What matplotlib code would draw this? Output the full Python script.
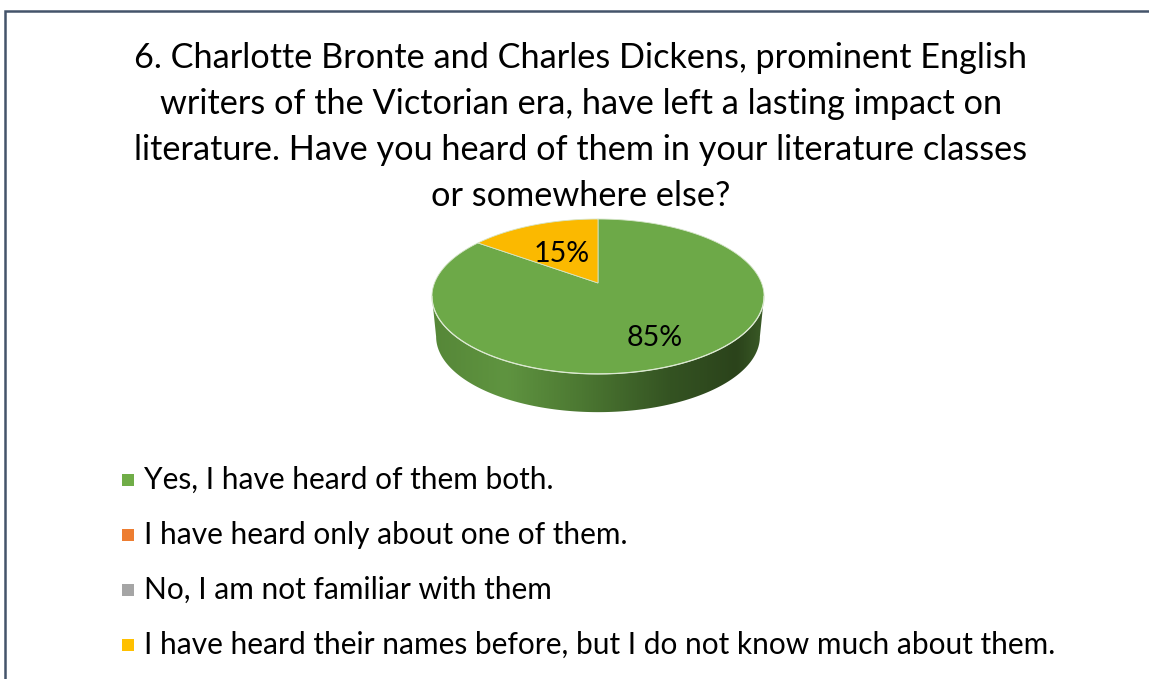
import numpy as np
import matplotlib
matplotlib.use("Agg")
import matplotlib.pyplot as plt
from matplotlib.colors import LinearSegmentedColormap
from matplotlib.patches import Polygon, Rectangle

plt.rcParams['font.family'] = ['Lato', 'DejaVu Sans']

title_lines = [
    "6. Charlotte Bronte and Charles Dickens, prominent English",
    "writers of the Victorian era, have left a lasting impact on",
    "literature. Have you heard of them in your literature classes",
    "or somewhere else?",
]
categories = [
    "Yes, I have heard of them both.",
    "I have heard only about one of them.",
    "No, I am not familiar with them",
    "I have heard their names before, but I do not know much about them.",
]
shares = [85, 0, 0, 15]
colors = ["#70AD47", "#ED7D31", "#A5A5A5", "#FFC000"]
face_colors = ["#6DA948", "#ED7D31", "#A5A5A5", "#FBB900"]

fig = plt.figure(figsize=(11.49, 6.79), dpi=100, facecolor="white")
ax = fig.add_axes([0, 0, 1, 1])
ax.set_xlim(0, 1149)
ax.set_ylim(679, 0)
ax.axis("off")

# Chart frame: only the top and left edges fall inside the canvas
ax.plot([5, 5, 1149], [679, 10.5, 10.5], color="#44546A", lw=1.8, solid_joinstyle="miter")

for y, line in zip([57.5, 103.5, 149.5, 195.5], title_lines):
    ax.text(581, y, line, fontsize=24.65, ha="center", va="center", color="black")

# Perspective projection of the unit disc onto the tilted pie
CX, CY = 598, 283
TILT = 0.174


def project(theta, scale=1.0, drop=0.0):
    """theta is measured clockwise from 12 o'clock."""
    u, v = np.sin(theta), np.cos(theta)
    w = 1 + TILT * v
    return CX + 163.5 * scale * u / w, CY - 75.1 * scale * v / w + drop


full = np.linspace(0, 2 * np.pi, 721)

# Side wall: shaded strip clipped to the region swept between the rims
top_x, top_y = project(full)
low_x, low_y = project(full, scale=0.975, drop=40.5)
right = np.argmax(top_x)
left = np.argmin(top_x)
front = np.arange(right, left + 1)
wall_xy = np.r_[np.c_[top_x[front], top_y[front]],
                np.c_[low_x[front][::-1], low_y[front][::-1]]]
wall = Polygon(wall_xy, closed=True, transform=ax.transData, fc="none", ec="none")
ax.add_patch(wall)
wall_cmap = LinearSegmentedColormap.from_list(
    "wall",
    [(0.0, "#568738"), (0.22, "#5F9440"), (0.45, "#4C7832"),
     (0.72, "#345322"), (0.92, "#2B431B"), (1.0, "#3A5A26")],
)
shade = ax.imshow(np.linspace(0, 1, 400)[None, :], cmap=wall_cmap, aspect="auto",
                  extent=(432, 764, 420, 290), zorder=1)
shade.set_clip_path(wall)
ax.set_xlim(0, 1149)
ax.set_ylim(679, 0)

# Top face, slices running clockwise from 12 o'clock
edges = np.r_[0, np.cumsum(shares)] / sum(shares) * 2 * np.pi
for start, stop, color in zip(edges[:-1], edges[1:], face_colors):
    if stop <= start:
        continue
    t = np.linspace(start, stop, 400)
    x, y = project(t)
    ax.fill(np.r_[CX, x], np.r_[CY, y], fc=color, ec="#D5E5C8", lw=0.6, zorder=2)

# Light rim along the near edge of the top face
ax.plot(top_x[front], top_y[front], color="#DCE9D2", lw=0.9, zorder=3)

label_positions = {0: (655, 338.5), 3: (562, 254.5)}
for i, (lx, ly) in label_positions.items():
    ax.text(lx, ly, f"{shares[i]}%", fontsize=20.6, ha="center", va="center",
            color="black", zorder=4)

# Legend column
for y, name, color in zip([480, 535, 589.5, 645], categories, colors):
    ax.add_patch(Rectangle((121.5, y - 6), 12, 12, fc=color, ec="none"))
    ax.text(144, y, name, fontsize=21.5, ha="left", va="center", color="black")

fig.savefig("out.png", dpi=100)
